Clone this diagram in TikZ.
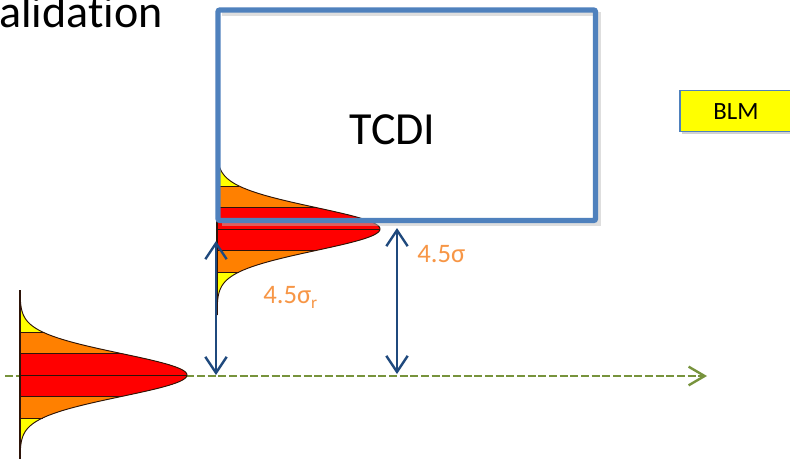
\documentclass[tikz,border=0pt]{standalone}
\usepackage{fontspec}
\setmainfont{Carlito}[Ligatures=NoCommon]
\usetikzlibrary{arrows.meta,shadows}
\definecolor{boxblue}{RGB}{79,129,189}
\definecolor{arrblue}{RGB}{31,73,125}
\definecolor{lblorange}{RGB}{247,150,70}
\definecolor{dashgreen}{RGB}{119,147,60}
\definecolor{gred}{RGB}{255,0,0}
\definecolor{gorange}{RGB}{255,128,0}
\definecolor{gyellow}{RGB}{255,255,0}
\definecolor{goutline}{RGB}{45,20,10}
\begin{document}
\begin{tikzpicture}[x=0.75pt,y=-0.75pt,
  gline/.style={draw=goutline,line width=0.7pt},
  dimarrow/.style={draw=arrblue,line width=1.8pt,
    {Straight Barb[length=12pt,width=16pt]}-{Straight Barb[length=12pt,width=16pt]}},
  lbl/.style={text=lblorange,font=\fontsize{20}{24}\selectfont,anchor=base west,inner sep=0pt},
  beamaxis/.style={draw=dashgreen,line width=1.8pt,dash pattern=on 6pt off 2pt,
    -{Straight Barb[length=12pt,width=14pt]}},
]
\useasboundingbox (0,0) rectangle (790,458);
\fill[white] (0,0) rectangle (790,458);

% title
\node[anchor=base west,inner sep=0pt,font=\fontsize{34.5}{40}\selectfont] (title) at (-1,27) {alidation};

% beam axis
\coordinate (axstart) at (5,376);
\coordinate (axend) at (707,376);
\draw[beamaxis] (axstart) -- (axend);

% ---- Gaussian 1 (beam) ----
\fill[gyellow] plot[samples=150,domain=-85:95,variable=\t] ({20+167*exp(-1*(\t)*(\t)/924.5)},{375+\t}) -- cycle;
\fill[gorange] (20,332) -- plot[samples=80,domain=-43:43,variable=\t] ({20+167*exp(-1*(\t)*(\t)/924.5)},{375+\t}) -- (20,418) -- cycle;
\fill[gred] (20,353.5) -- plot[samples=60,domain=-21.5:21.5,variable=\t] ({20+167*exp(-1*(\t)*(\t)/924.5)},{375+\t}) -- (20,396.5) -- cycle;
\draw[gline] (20,332) -- ({20+167*exp(-2)},332);
\draw[gline] (20,353.5) -- ({20+167*exp(-0.5)},353.5);
\draw[gline] (20,375) -- (187,375);
\draw[gline] (20,396.5) -- ({20+167*exp(-0.5)},396.5);
\draw[gline] (20,418) -- ({20+167*exp(-2)},418);
\draw[gline] plot[samples=150,domain=-85:95,variable=\t] ({20+167*exp(-1*(\t)*(\t)/924.5)},{375+\t});
\draw[goutline,line width=1pt] (20,290) -- (20,470);

% ---- Gaussian 2 (at TCDI) ----
\fill[gyellow] plot[samples=150,domain=-69:86,variable=\t] ({217+163*exp(-1*(\t)*(\t)/924.5)},{229+\t}) -- cycle;
\fill[gorange] (217,186) -- plot[samples=80,domain=-43:43,variable=\t] ({217+163*exp(-1*(\t)*(\t)/924.5)},{229+\t}) -- (217,272) -- cycle;
\fill[gred] (217,207.5) -- plot[samples=60,domain=-21.5:21.5,variable=\t] ({217+163*exp(-1*(\t)*(\t)/924.5)},{229+\t}) -- (217,250.5) -- cycle;
\draw[gline] (217,186) -- ({217+163*exp(-2)},186);
\draw[gline] (217,207.5) -- ({217+163*exp(-0.5)},207.5);
\draw[gline] (217,229) -- (380,229);
\draw[gline] (217,250.5) -- ({217+163*exp(-0.5)},250.5);
\draw[gline] (217,272) -- ({217+163*exp(-2)},272);
\draw[gline] plot[samples=150,domain=-69:86,variable=\t] ({217+163*exp(-1*(\t)*(\t)/924.5)},{229+\t});
\draw[goutline,line width=1pt] (217,160) -- (217,315);

% ---- TCDI box ----
\draw[black!25,line width=3pt,opacity=0.5] (222,14) -- (599,14) -- (599,224) -- (222,224);
\node[draw=boxblue,line width=4pt,rounded corners=1.5pt,minimum width=283.1pt,minimum height=157.9pt,inner sep=0pt] (tcdi) at (406.75,115.25) {};
\node[font=\fontsize{34.5}{40}\selectfont,inner sep=0pt] (tcdilbl) at (392.5,130) {TCDI};

% ---- BLM box ----
\node[draw=boxblue,line width=1.1pt,fill=gyellow,minimum width=84pt,minimum height=30.75pt,inner sep=0pt,
  drop shadow={opacity=0.35,shadow xshift=1.5pt,shadow yshift=-1.5pt},font=\fontsize{18.6}{21}\selectfont] (blm) at (736,111.2) {BLM};

% ---- dimension arrows ----
\coordinate (d1top) at (216,241);
\coordinate (d1bot) at (216,375);
\coordinate (d2top) at (397,228);
\coordinate (d2bot) at (397,374);
\draw[dimarrow] (d1top) -- (d1bot);
\draw[dimarrow] (d2top) -- (d2bot);

% ---- labels ----
\node[lbl] (sigr) at (263,303) {4.5σ\raisebox{-4pt}{\fontsize{13}{15}\selectfont r}};
\node[lbl] (sig) at (417,262) {4.5σ};
\end{tikzpicture}
\end{document}
